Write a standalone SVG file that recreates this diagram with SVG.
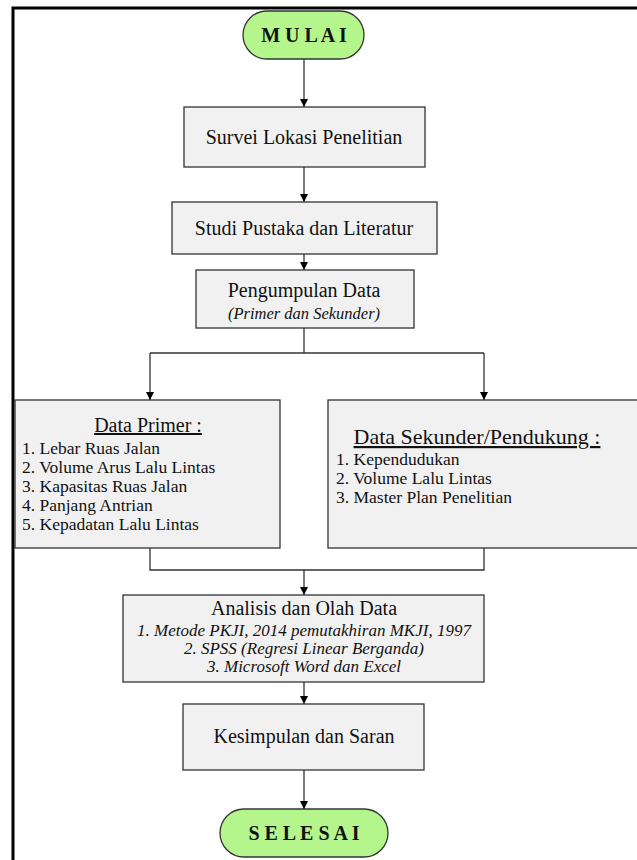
<svg xmlns="http://www.w3.org/2000/svg" width="637" height="860" viewBox="0 0 637 860">
<style>
text{font-family:"Liberation Serif","Times New Roman",serif;fill:#111}
.box{fill:#f1f1f1;stroke:#333;stroke-width:1.3}
.term{fill:#b4f58c;stroke:#333;stroke-width:1.3}
.t{font-size:20px;text-anchor:middle}
.tb{font-size:20px;font-weight:bold;text-anchor:middle}
.it{font-size:17px;font-style:italic;text-anchor:middle}
.li{font-size:17.5px}
.c{fill:none;stroke:#333;stroke-width:1.3}
.frame{stroke:#000;stroke-width:3;fill:none}
</style>
<defs>
<marker id="ah" viewBox="0 0 10 10" refX="10" refY="5" markerWidth="8" markerHeight="8" markerUnits="userSpaceOnUse" orient="auto"><path d="M0,0 L10,5 L0,10 z" fill="#000"/></marker>
</defs>
<path class="frame" d="M13,860 V8 H637"/>
<g id="connectors">
<line class="c" x1="304" y1="59" x2="304" y2="107" marker-end="url(#ah)"/>
<line class="c" x1="304" y1="167" x2="304" y2="202" marker-end="url(#ah)"/>
<line class="c" x1="304" y1="254" x2="304" y2="270" marker-end="url(#ah)"/>
<polyline class="c" points="304,328 304,353"/>
<polyline class="c" points="150,353 484,353"/>
<line class="c" x1="150" y1="353" x2="150" y2="400" marker-end="url(#ah)"/>
<line class="c" x1="484" y1="353" x2="484" y2="400" marker-end="url(#ah)"/>
<polyline class="c" points="150,548 150,570 484,570 484,548"/>
<line class="c" x1="304" y1="570" x2="304" y2="595" marker-end="url(#ah)"/>
<line class="c" x1="304" y1="682" x2="304" y2="704" marker-end="url(#ah)"/>
<line class="c" x1="304" y1="770" x2="304" y2="809" marker-end="url(#ah)"/>
</g>
<g id="mulai">
<rect class="term" x="243" y="11" width="121" height="48" rx="24"/>
<text class="tb" x="304" y="42">M U L A I</text>
</g>
<g id="survei">
<rect class="box" x="184" y="107" width="241" height="60"/>
<text class="t" x="304" y="144">Survei Lokasi Penelitian</text>
</g>
<g id="studi">
<rect class="box" x="172" y="202" width="265" height="52"/>
<text class="t" x="304" y="235">Studi Pustaka dan Literatur</text>
</g>
<g id="pengumpulan">
<rect class="box" x="196" y="270" width="218" height="58"/>
<text class="t" x="304" y="297">Pengumpulan Data</text>
<text class="it" x="304" y="319" style="font-size:16.5px">(Primer dan Sekunder)</text>
</g>
<g id="primer">
<rect class="box" x="15" y="400" width="265" height="148"/>
<text class="t" x="148" y="432" text-decoration="underline">Data Primer :</text>
<text class="li" x="22" y="454">1. Lebar Ruas Jalan</text>
<text class="li" x="22" y="473">2. Volume Arus Lalu Lintas</text>
<text class="li" x="22" y="492">3. Kapasitas Ruas Jalan</text>
<text class="li" x="22" y="511">4. Panjang Antrian</text>
<text class="li" x="22" y="530">5. Kepadatan Lalu Lintas</text>
</g>
<g id="sekunder">
<rect class="box" x="328" y="400" width="312" height="148"/>
<text class="t" x="477" y="444" style="font-size:22px" text-decoration="underline">Data Sekunder/Pendukung :</text>
<text class="li" x="336" y="465">1. Kependudukan</text>
<text class="li" x="336" y="484">2. Volume Lalu Lintas</text>
<text class="li" x="336" y="503">3. Master Plan Penelitian</text>
</g>
<g id="analisis">
<rect class="box" x="123" y="595" width="361" height="87"/>
<text class="t" x="304" y="615">Analisis dan Olah Data</text>
<text class="it" x="304" y="636">1. Metode PKJI, 2014 pemutakhiran MKJI, 1997</text>
<text class="it" x="304" y="654">2. SPSS (Regresi Linear Berganda)</text>
<text class="it" x="304" y="672">3. Microsoft Word dan Excel</text>
</g>
<g id="kesimpulan">
<rect class="box" x="183" y="704" width="241" height="66"/>
<text class="t" x="304" y="743">Kesimpulan dan Saran</text>
</g>
<g id="selesai">
<rect class="term" x="220" y="809" width="168" height="48" rx="24"/>
<text class="tb" x="304" y="840">S E L E S A I</text>
</g>
</svg>
